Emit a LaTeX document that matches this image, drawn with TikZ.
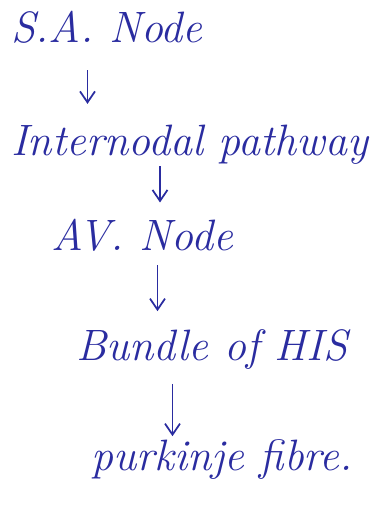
\documentclass[tikz,border=0pt]{standalone}
\usepackage{tikz}
\usetikzlibrary{positioning,arrows.meta}
\definecolor{inkBlue}{HTML}{2A2CA0}

\begin{document}
\begin{tikzpicture}[
  stage/.style={font=\fontsize{25}{29}\selectfont\itshape, text=inkBlue, anchor=west, inner sep=2pt},
  flow/.style={draw=inkBlue, line width=1pt, -{Straight Barb[length=2.2mm,width=3mm]}},
]
\useasboundingbox (0,0) rectangle (7.68,-10.16);

% =====================================================================
% STAGES of the conduction path
% =====================================================================
\node[stage] (sa)     at (0.15,-0.55) {S.A. Node};
\node[stage] (inter)  at (0.15,-2.9) {Internodal pathway};
\node[stage] (av)     at (0.95,-4.7) {AV. Node};
\node[stage] (bundle) at (1.45,-7.0) {Bundle of HIS};
\node[stage] (purk)   at (1.75,-9.2) {purkinje fibre.};

% =====================================================================
% ARROWS
% =====================================================================
\draw[flow, shorten <=0.45cm, shorten >=0.35cm]
  ([xshift=1.6cm]sa.south west) -- ([xshift=1.6cm]sa.south west |- inter.north);
\draw[flow, shorten <=-0.05cm, shorten >=0.25cm]
  ([xshift=3.05cm]inter.south west) -- ([xshift=3.05cm]inter.south west |- av.north);
\draw[flow, shorten <=0.2cm, shorten >=0.3cm]
  ([xshift=2.2cm]av.south west) -- ([xshift=2.2cm]av.south west |- bundle.north);
\draw[flow, shorten <=0.2cm, shorten >=0.0cm]
  ([xshift=2.0cm]bundle.south west) -- ([xshift=2.0cm]bundle.south west |- purk.north);

\end{tikzpicture}
\end{document}
